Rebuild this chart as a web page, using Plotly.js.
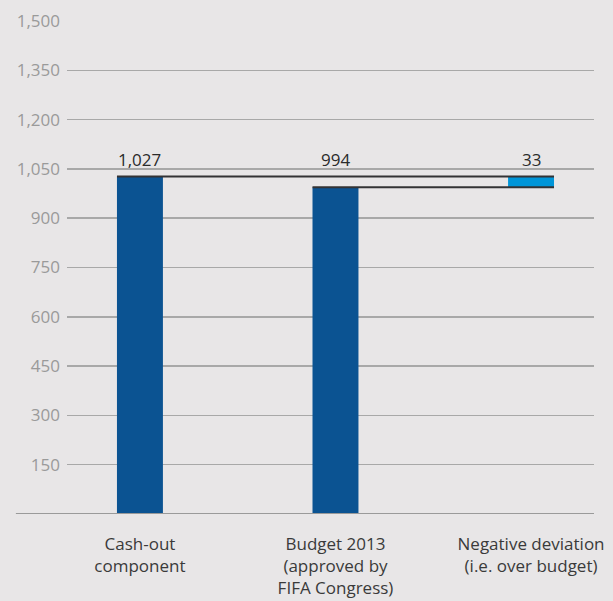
<!DOCTYPE html>
<html>
<head>
<meta charset="utf-8">
<script src="https://cdn.plot.ly/plotly-3.0.1.min.js"></script>
<style>html,body{margin:0;padding:0;background:#e8e6e7;}#chart{width:613px;height:601px;}</style>
</head>
<body>
<div id="chart"></div>
<script>
const categories = ["Cash-out", "Budget", "Deviation"];
const categoryLabels = ["Cash-out<br>component", "Budget 2013<br>(approved by<br>FIFA Congress)", "Negative deviation<br>(i.e. over budget)"];
const cashOut = 1027;
const budget = 994;
const deviation = cashOut - budget; // 33
const valueLabels = ["1,027", "994", "33"];
const yTicks = [150, 300, 450, 600, 750, 900, 1050, 1200, 1350, 1500];

const darkBlue = "#0b5392";
const lightBlue = "#0095d8";
const barW = 0.235;

const traces = [
  {
    type: "bar",
    x: [categories[0], categories[1]],
    y: [cashOut, budget],
    marker: {color: darkBlue},
    width: barW,
    hoverinfo: "skip"
  },
  {
    type: "bar",
    x: [categories[2]],
    y: [deviation],
    base: [budget],
    marker: {color: lightBlue},
    width: barW,
    hoverinfo: "skip"
  }
];

const lineColor = "#333335";
const shapes = [
  {type: "line", xref: "x", yref: "y", x0: 0 - barW / 2, x1: 2 + barW / 2, y0: cashOut, y1: cashOut, line: {color: lineColor, width: 2}},
  {type: "line", xref: "x", yref: "y", x0: 1 - barW / 2, x1: 2 + barW / 2, y0: budget, y1: budget, line: {color: lineColor, width: 2}},
  {type: "line", xref: "paper", yref: "y", x0: -0.097, x1: 1, y0: 0, y1: 0, line: {color: "#9a9a9a", width: 2}}
];

const annotations = categories.map((c, i) => ({
  x: c, y: 1050, xref: "x", yref: "y", yanchor: "bottom", yshift: -4,
  text: valueLabels[i], showarrow: false,
  font: {family: "Open Sans, sans-serif", size: 17, color: "#2b2b2b"}
}));

const layout = {
  width: 613, height: 601,
  margin: {l: 67, r: 19, t: 21, b: 87},
  paper_bgcolor: "#e8e6e7",
  plot_bgcolor: "#e8e6e7",
  showlegend: false,
  barmode: "overlay",
  xaxis: {
    type: "category",
    categoryorder: "array",
    categoryarray: categories,
    range: [-0.373, 2.322],
    tickvals: categories,
    ticktext: categoryLabels,
    showgrid: false, zeroline: false, showline: false,
    ticks: "",
    ticklabelstandoff: 18,
    tickfont: {family: "Open Sans, sans-serif", size: 17, color: "#3a3a3a"},
    fixedrange: true
  },
  yaxis: {
    range: [0, 1500],
    tickvals: yTicks,
    tickformat: ",",
    showgrid: true, gridcolor: "#a8a8a8", gridwidth: 1.5,
    zeroline: false, showline: false,
    ticks: "",
    ticklabelstandoff: 6,
    tickfont: {family: "Open Sans, sans-serif", size: 17, color: "#9a9a9a"},
    fixedrange: true
  },
  shapes: shapes,
  annotations: annotations
};

Plotly.newPlot("chart", traces, layout, {displayModeBar: false, staticPlot: true});
</script>
</body>
</html>
